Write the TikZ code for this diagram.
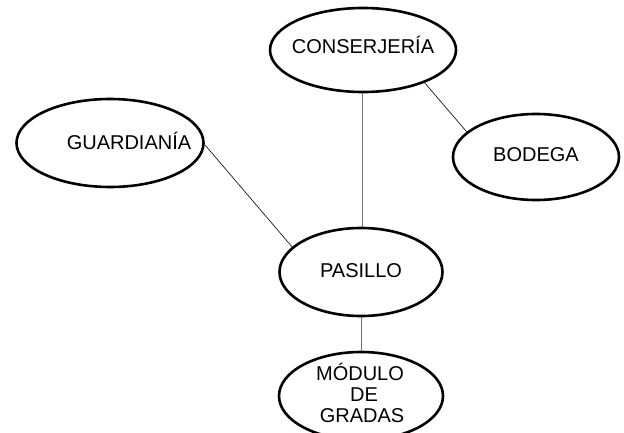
\documentclass[tikz,border=0pt]{standalone}
\usepackage{fontspec}
\setmainfont{Liberation Sans}
\usetikzlibrary{shapes.geometric}
\begin{document}
\begin{tikzpicture}[x=1pt,y=-1pt,
  room/.style={ellipse,draw=black,line width=2.6pt,inner sep=0pt},
  lbl/.style={anchor=base,inner sep=0pt,font=\fontsize{20}{21}\selectfont},
  thin/.style={draw=black,line width=0.6pt},
  vline/.style={draw=black!55,line width=1pt}]
\useasboundingbox (0,0) rectangle (624,433);
\clip (0,0) rectangle (624,433);
\node[room,minimum width=186pt,minimum height=84pt] (cons) at (363,50) {};
\node[room,minimum width=187pt,minimum height=88pt] (guar) at (110,143) {};
\node[room,minimum width=166pt,minimum height=86pt] (bod) at (536,157) {};
\node[room,minimum width=163pt,minimum height=88pt] (pas) at (361,272) {};
\node[room,minimum width=164pt,minimum height=88pt] (mod) at (361,396) {};
\node[lbl] (tcons) at (363,53.5) {CONSERJERÍA};
\node[lbl] (tguar) at (129,149.3) {GUARDIANÍA};
\node[lbl] (tbod) at (536,161.7) {BODEGA};
\node[lbl] (tpas) at (361,277.3) {PASILLO};
\node[lbl] (tmod1) at (360,380) {MÓDULO};
\node[lbl] (tmod2) at (364,401.5) {DE};
\node[lbl] (tmod3) at (362,422) {GRADAS};
\draw[vline] (cons.south) ++(-1,0) coordinate (c1) -- (c1 |- pas.north);
\draw[thin] (cons.-28) -- (bod.160);
\draw[thin] (guar.-1) -- (pas.160.6);
\draw[vline] (pas.south) -- (mod.north);
\end{tikzpicture}
\end{document}
